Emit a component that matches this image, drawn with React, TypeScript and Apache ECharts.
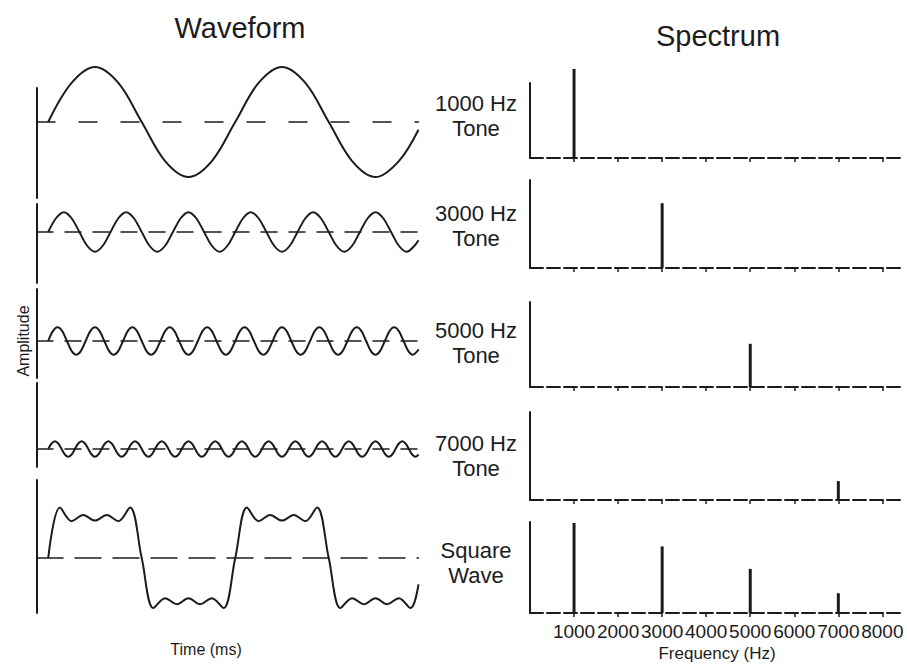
import React, { useEffect, useRef } from "react";
import * as echarts from "echarts";

// ---- Waveform data (time in ms; the 1000 Hz tone has a 1 ms period) ----
const TIME_START = -0.06;
const TIME_END = 1.98;

const tone1000Step = 0.125;
const tone1000 = [
  0, 0.71, 1, 0.71, 0, -0.71, -1, -0.71,
  0, 0.71, 1, 0.71, 0, -0.71, -1, -0.71,
];
const tone1000End = -0.14;

const tone3000Step = 1 / 24;
const tone3000 = [
  0, 0.25, 0.36, 0.25, 0, -0.25, -0.36, -0.25,
  0, 0.25, 0.36, 0.25, 0, -0.25, -0.36, -0.25,
  0, 0.25, 0.36, 0.25, 0, -0.25, -0.36, -0.25,
  0, 0.25, 0.36, 0.25, 0, -0.25, -0.36, -0.25,
  0, 0.25, 0.36, 0.25, 0, -0.25, -0.36, -0.25,
  0, 0.25, 0.36, 0.25, 0, -0.25, -0.36, -0.25,
];
const tone3000End = -0.15;

const tone5000Step = 1 / 40;
const tone5000 = [
  0, 0.18, 0.25, 0.18, 0, -0.18, -0.25, -0.18,
  0, 0.18, 0.25, 0.18, 0, -0.18, -0.25, -0.18,
  0, 0.18, 0.25, 0.18, 0, -0.18, -0.25, -0.18,
  0, 0.18, 0.25, 0.18, 0, -0.18, -0.25, -0.18,
  0, 0.18, 0.25, 0.18, 0, -0.18, -0.25, -0.18,
  0, 0.18, 0.25, 0.18, 0, -0.18, -0.25, -0.18,
  0, 0.18, 0.25, 0.18, 0, -0.18, -0.25, -0.18,
  0, 0.18, 0.25, 0.18, 0, -0.18, -0.25, -0.18,
  0, 0.18, 0.25, 0.18, 0, -0.18, -0.25, -0.18,
  0, 0.18, 0.25, 0.18, 0, -0.18, -0.25, -0.18,
];
const tone5000End = -0.15;

const tone7000Step = 1 / 56;
const tone7000 = [
  0, 0.1, 0.14, 0.1, 0, -0.1, -0.14, -0.1,
  0, 0.1, 0.14, 0.1, 0, -0.1, -0.14, -0.1,
  0, 0.1, 0.14, 0.1, 0, -0.1, -0.14, -0.1,
  0, 0.1, 0.14, 0.1, 0, -0.1, -0.14, -0.1,
  0, 0.1, 0.14, 0.1, 0, -0.1, -0.14, -0.1,
  0, 0.1, 0.14, 0.1, 0, -0.1, -0.14, -0.1,
  0, 0.1, 0.14, 0.1, 0, -0.1, -0.14, -0.1,
  0, 0.1, 0.14, 0.1, 0, -0.1, -0.14, -0.1,
  0, 0.1, 0.14, 0.1, 0, -0.1, -0.14, -0.1,
  0, 0.1, 0.14, 0.1, 0, -0.1, -0.14, -0.1,
  0, 0.1, 0.14, 0.1, 0, -0.1, -0.14, -0.1,
  0, 0.1, 0.14, 0.1, 0, -0.1, -0.14, -0.1,
  0, 0.1, 0.14, 0.1, 0, -0.1, -0.14, -0.1,
  0, 0.1, 0.14, 0.1, 0, -0.1, -0.14,
];
const tone7000End = -0.1;

const squareStep = 1 / 16;
const squareWave = [
  0, 0.92, 0.67, 0.78, 0.68, 0.78, 0.67, 0.92,
  0, -0.91, -0.73, -0.84, -0.73, -0.84, -0.73, -0.91,
  0, 0.92, 0.67, 0.78, 0.68, 0.78, 0.67, 0.92,
  0, -0.91, -0.73, -0.84, -0.73, -0.84, -0.73, -0.91,
];
const squareEnd = -0.48;

// ---- Spectrum data (frequency in Hz, relative amplitude) ----
const freqTicks = [1000, 2000, 3000, 4000, 5000, 6000, 7000, 8000];
const spectrum1000 = [[1000, 0.99]];
const spectrum3000 = [[3000, 0.72]];
const spectrum5000 = [[5000, 0.48]];
const spectrum7000 = [[7000, 0.21]];
const spectrumSquare = [
  [1000, 1.0],
  [3000, 0.74],
  [5000, 0.49],
  [7000, 0.22],
];
const spectrumLabels = [
  "1000 Hz\nTone",
  "3000 Hz\nTone",
  "5000 Hz\nTone",
  "7000 Hz\nTone",
  "Square\nWave",
];

// ---- Layout / style ----
const INK = "#1c1c1c";
const FONT = '"Liberation Sans", Arial, Helvetica, sans-serif';
const WAVE_LEFT = 37;
const WAVE_WIDTH = 381.5;
const WAVE_UNIT_PX = 55;
const SPEC_LEFT = 530;
const SPEC_WIDTH = 370;
const SPEC_UNIT_PX = 90;
const SPEC_MAX = 8400;

const wavePanels = [
  { top: 88, bottom: 198, mid: 122, dash: [18, 24] },
  { top: 204, bottom: 283, mid: 232, dash: [16, 12] },
  { top: 289, bottom: 378, mid: 341, dash: [16, 12] },
  { top: 383, bottom: 467, mid: 449, dash: [16, 12] },
  { top: 480, bottom: 613, mid: 558, dash: [26, 12] },
];

const specPanels = [
  { top: 83, base: 158, labelY: 116 },
  { top: 180, base: 268, labelY: 225.5 },
  { top: 302, base: 387, labelY: 342.5 },
  { top: 412, base: 500, labelY: 455.5 },
  { top: 522, base: 613, labelY: 563 },
];

function toSeries(values: number[], step: number, endValue: number) {
  const pts = values.map((v, i) => [i * step, v]);
  pts.push([TIME_END, endValue]);
  return pts;
}

export default function App() {
  const ref = useRef<HTMLDivElement>(null);

  useEffect(() => {
    if (!ref.current) return;
    const chart = echarts.init(ref.current, undefined, { renderer: "svg" });

    const waves = [
      toSeries(tone1000, tone1000Step, tone1000End),
      toSeries(tone3000, tone3000Step, tone3000End),
      toSeries(tone5000, tone5000Step, tone5000End),
      toSeries(tone7000, tone7000Step, tone7000End),
      toSeries(squareWave, squareStep, squareEnd),
    ];
    const spectra = [spectrum1000, spectrum3000, spectrum5000, spectrum7000, spectrumSquare];

    const grid: any[] = [];
    const xAxis: any[] = [];
    const yAxis: any[] = [];
    const series: any[] = [];

    wavePanels.forEach((p, i) => {
      grid.push({ left: WAVE_LEFT, top: p.top, width: WAVE_WIDTH, height: p.bottom - p.top });
      xAxis.push({
        gridIndex: i,
        type: "value",
        min: TIME_START,
        max: TIME_END,
        axisLine: { show: true, onZero: true, lineStyle: { color: INK, width: 1.5, type: p.dash } },
        axisTick: { show: false },
        axisLabel: { show: false },
        splitLine: { show: false },
      });
      yAxis.push({
        gridIndex: i,
        type: "value",
        min: -(p.bottom - p.mid) / WAVE_UNIT_PX,
        max: (p.mid - p.top) / WAVE_UNIT_PX,
        axisLine: { show: true, onZero: false, lineStyle: { color: INK, width: 2 } },
        axisTick: { show: false },
        axisLabel: { show: false },
        splitLine: { show: false },
      });
      series.push({
        type: "line",
        xAxisIndex: i,
        yAxisIndex: i,
        data: waves[i],
        smooth: 0.35,
        showSymbol: false,
        clip: false,
        silent: true,
        lineStyle: { color: INK, width: 2 },
      });
    });

    specPanels.forEach((p, k) => {
      const i = k + 5;
      const isLast = k === specPanels.length - 1;
      grid.push({ left: SPEC_LEFT, top: p.top, width: SPEC_WIDTH, height: p.base - p.top });
      xAxis.push({
        gridIndex: i,
        type: "value",
        min: 0,
        max: SPEC_MAX,
        axisLine: { show: true, onZero: false, lineStyle: { color: INK, width: 2, type: [13, 4] } },
        axisTick: {
          show: true,
          customValues: freqTicks,
          length: 4,
          lineStyle: { color: INK, width: 1.5 },
        },
        axisLabel: {
          show: isLast,
          customValues: freqTicks,
          formatter: (v: number) => String(v),
          hideOverlap: false,
          showMinLabel: true,
          showMaxLabel: true,
          color: INK,
          fontFamily: FONT,
          fontSize: 19,
          margin: 9,
        },
        splitLine: { show: false },
      });
      yAxis.push({
        gridIndex: i,
        type: "value",
        min: 0,
        max: (p.base - p.top) / SPEC_UNIT_PX,
        axisLine: { show: true, onZero: false, lineStyle: { color: INK, width: 2 } },
        axisTick: { show: false },
        axisLabel: { show: false },
        splitLine: { show: false },
      });
      series.push({
        type: "bar",
        xAxisIndex: i,
        yAxisIndex: i,
        data: spectra[k],
        barWidth: 3,
        clip: false,
        silent: true,
        itemStyle: { color: INK },
      });
    });

    const graphics: any[] = [
      {
        type: "text",
        x: 240,
        y: 28,
        style: { text: "Waveform", font: `29px ${FONT}`, fill: INK, align: "center", verticalAlign: "middle" },
      },
      {
        type: "text",
        x: 718,
        y: 36,
        style: { text: "Spectrum", font: `29px ${FONT}`, fill: INK, align: "center", verticalAlign: "middle" },
      },
      {
        type: "text",
        x: 206,
        y: 649,
        style: { text: "Time (ms)", font: `16px ${FONT}`, fill: INK, align: "center", verticalAlign: "middle" },
      },
      {
        type: "text",
        x: 717,
        y: 653,
        style: { text: "Frequency (Hz)", font: `17px ${FONT}`, fill: INK, align: "center", verticalAlign: "middle" },
      },
      {
        type: "text",
        x: 23,
        y: 341,
        rotation: Math.PI / 2,
        style: { text: "Amplitude", font: `16px ${FONT}`, fill: INK, align: "center", verticalAlign: "middle" },
      },
    ];
    specPanels.forEach((p, k) => {
      graphics.push({
        type: "text",
        x: 476,
        y: p.labelY,
        style: {
          text: spectrumLabels[k],
          font: `22px ${FONT}`,
          lineHeight: 25,
          fill: INK,
          align: "center",
          verticalAlign: "middle",
        },
      });
    });

    chart.setOption({
      animation: false,
      backgroundColor: "#ffffff",
      grid,
      xAxis,
      yAxis,
      series,
      graphic: { elements: graphics },
    });

    return () => chart.dispose();
  }, []);

  return (
    <div
      ref={ref}
      style={{ position: "fixed", left: 0, top: 0, width: 907, height: 669 }}
    />
  );
}
